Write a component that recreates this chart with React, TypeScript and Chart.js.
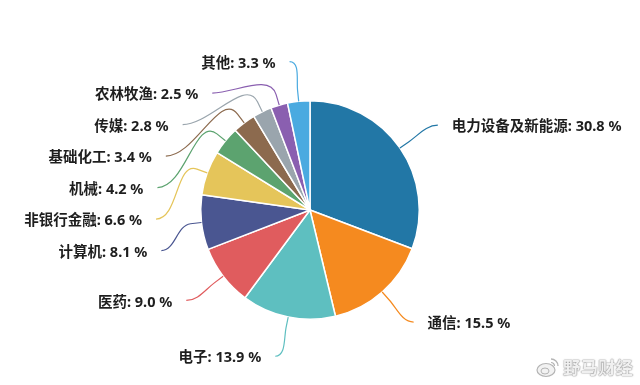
import React, { useEffect, useRef } from "react";
import { Chart, registerables } from "chart.js";

Chart.register(...registerables);

const categories = [
  "电力设备及新能源",
  "通信",
  "电子",
  "医药",
  "计算机",
  "非银行金融",
  "机械",
  "基础化工",
  "传媒",
  "农林牧渔",
  "其他",
];
const shares = [30.8, 15.5, 13.9, 9.0, 8.1, 6.6, 4.2, 3.4, 2.8, 2.5, 3.3];
const sliceColors = [
  "#2277a6",
  "#f58a1f",
  "#5ebfc0",
  "#e05c5e",
  "#4a5691",
  "#e5c55a",
  "#5ca36f",
  "#8c6a4e",
  "#9aa5ad",
  "#8a5fb0",
  "#4aaae0",
];

const FONT = '"Noto Sans", "Noto Sans CJK SC", sans-serif';

const labelPlugin = {
  id: "pieLabels",
  afterDatasetsDraw(chart: any) {
    const ctx = chart.ctx as CanvasRenderingContext2D;
    const meta = chart.getDatasetMeta(0);
    const LEN = 40;
    const LEN2 = 5;
    const GAP = 31.5;
    const items = meta.data.map((arc: any, i: number) => {
      const p = arc.getProps(["x", "y", "startAngle", "endAngle", "outerRadius"], true);
      const mid = (p.startAngle + p.endAngle) / 2;
      const cos = Math.cos(mid);
      const sin = Math.sin(mid);
      return {
        i,
        cx: p.x,
        cy: p.y,
        r: p.outerRadius,
        cos,
        sin,
        side: cos >= 0 ? 1 : -1,
        ly: p.y + (p.outerRadius + LEN) * sin,
        lx: 0,
      };
    });
    for (const side of [1, -1]) {
      const list = items.filter((it: any) => it.side === side).sort((a: any, b: any) => a.ly - b.ly);
      for (let k = 1; k < list.length; k++) {
        if (list[k].ly < list[k - 1].ly + GAP) list[k].ly = list[k - 1].ly + GAP;
      }
    }
    ctx.save();
    for (const it of items) {
      const rA = it.r + LEN;
      const dy = it.ly - it.cy;
      const dx = Math.sqrt(Math.max(0, rA * rA - dy * dy));
      it.lx = it.cx + it.side * (dx + LEN2);
      const p0x = it.cx + it.r * it.cos;
      const p0y = it.cy + it.r * it.sin;
      const p1x = it.cx + (it.r + 11) * it.cos;
      const p1y = it.cy + (it.r + 11) * it.sin;
      const d = Math.hypot(it.lx - p1x, it.ly - p1y);
      const k = d * 0.35;
      ctx.beginPath();
      ctx.moveTo(p0x, p0y);
      ctx.lineTo(p1x, p1y);
      ctx.bezierCurveTo(
        p1x + it.cos * k,
        p1y + it.sin * k,
        it.lx - it.side * k,
        it.ly,
        it.lx,
        it.ly
      );
      ctx.strokeStyle = sliceColors[it.i];
      ctx.lineWidth = 1.2;
      ctx.stroke();

      ctx.font = `bold 14.5px ${FONT}`;
      ctx.fillStyle = "#1e1e1e";
      ctx.textBaseline = "middle";
      ctx.textAlign = it.side > 0 ? "left" : "right";
      ctx.fillText(
        `${categories[it.i]}: ${shares[it.i].toFixed(1)} %`,
        it.lx + it.side * 14,
        it.ly + 2
      );
    }
    ctx.restore();
  },
};

export default function App() {
  const ref = useRef<HTMLCanvasElement | null>(null);
  useEffect(() => {
    document.body.style.margin = "0";
    const canvas = ref.current;
    if (!canvas) return;
    const chart = new Chart(canvas, {
      type: "pie",
      data: {
        labels: categories,
        datasets: [
          {
            data: shares,
            backgroundColor: sliceColors,
            borderColor: "#ffffff",
            borderWidth: 1.5,
          },
        ],
      },
      options: {
        animation: false,
        responsive: false,
        maintainAspectRatio: false,
        layout: { padding: { left: 200, right: 220, top: 100, bottom: 65 } },
        plugins: {
          legend: { display: false },
          tooltip: { enabled: false },
        },
      },
      plugins: [labelPlugin],
    });
    return () => chart.destroy();
  }, []);
  return (
    <div style={{ position: "absolute", left: 0, top: 0, width: 640, height: 385, background: "#fff" }}>
      <canvas ref={ref} width={640} height={385} />
      <div
        style={{
          position: "absolute",
          left: 536,
          top: 356,
          display: "flex",
          alignItems: "center",
          gap: 3,
        }}
      >
        <svg width="24" height="22" viewBox="0 0 24 22">
          <ellipse cx="10" cy="14" rx="9" ry="6.5" fill="#f2f2f2" stroke="#b5b5b5" strokeWidth="1.2" />
          <ellipse cx="9" cy="15" rx="4" ry="3" fill="none" stroke="#b5b5b5" strokeWidth="1" />
          <path d="M15 3 A7 7 0 0 1 22 10" fill="none" stroke="#b5b5b5" strokeWidth="1.3" />
          <path d="M15 6.5 A3.5 3.5 0 0 1 18.5 10" fill="none" stroke="#b5b5b5" strokeWidth="1.2" />
        </svg>
        <span
          style={{
            fontFamily: '"Noto Sans CJK SC", sans-serif',
            fontSize: 17.5,
            fontWeight: "bold",
            color: "#f0f0f0",
            textShadow: "0 0 1.5px #777, 0 0 1px #999",
            letterSpacing: 0,
            lineHeight: "22px",
          }}
        >
          野马财经
        </span>
      </div>
    </div>
  );
}
